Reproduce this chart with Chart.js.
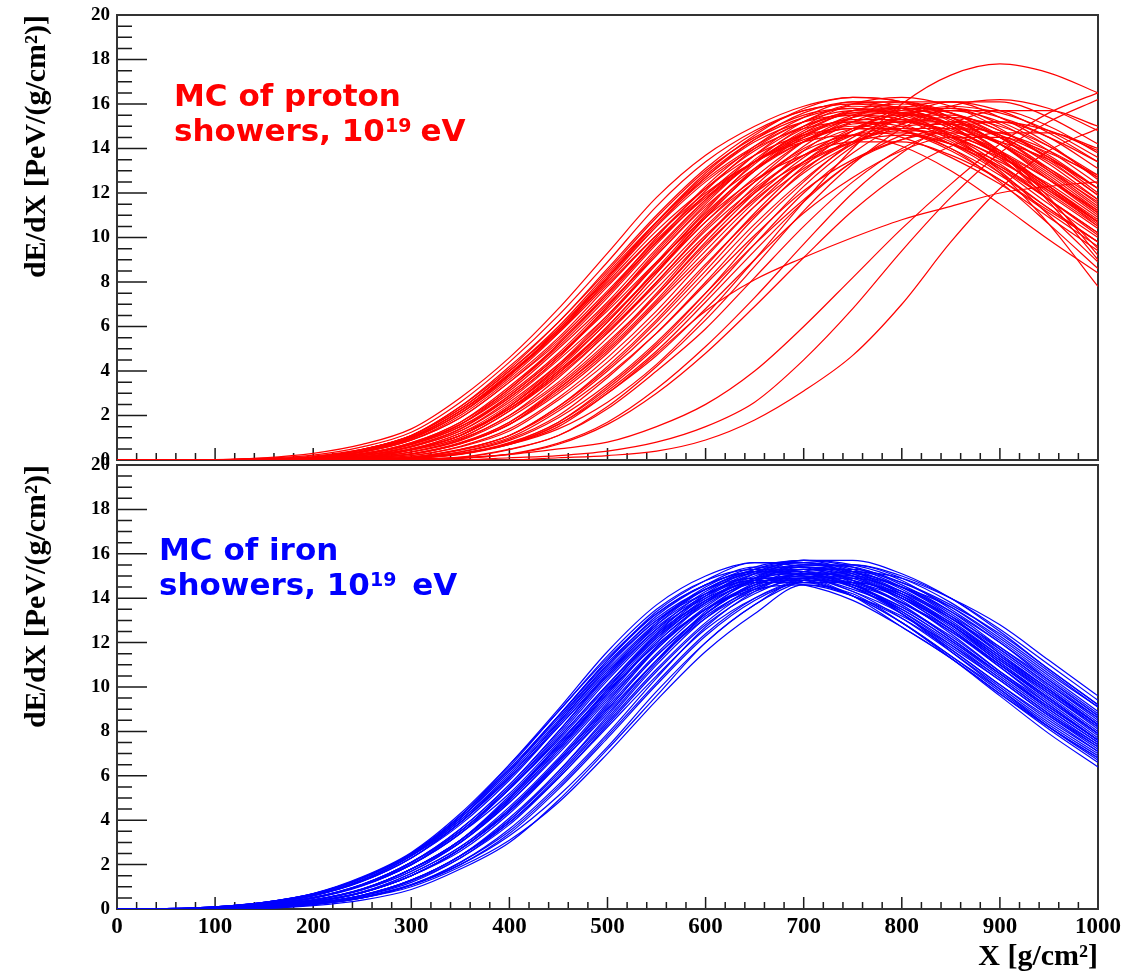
<!DOCTYPE html>
<html>
<head>
<meta charset="utf-8">
<script src="https://cdn.jsdelivr.net/npm/chart.js@4.4.1/dist/chart.umd.min.js"></script>
<style>
  html, body { margin: 0; padding: 0; background: #fff; overflow: hidden; }
  #wrap { position: relative; width: 1122px; height: 975px; }
  canvas { position: absolute; left: 0; }
  #cTop { top: 0; }
  #cBot { top: 455px; }
  .note { position: absolute; font-family: "DejaVu Sans", sans-serif; font-weight: bold; font-size: 31px; line-height: 35px; white-space: nowrap; }
  .note sup { font-size: 19px; position: relative; top: -9px; vertical-align: baseline; }
</style>
</head>
<body>
<div id="wrap">
  <canvas id="cTop" width="1122" height="470"></canvas>
  <canvas id="cBot" width="1122" height="520"></canvas>
  <div class="note" id="noteP" style="left:174px; top:78px; color:#ff0000;">MC of proton<br>showers, 10<sup>19</sup><span style="margin-left:9px">eV</span></div>
  <div class="note" id="noteI" style="left:159px; top:532px; color:#0000ff;">MC of iron<br>showers, 10<sup>19</sup> <span style="margin-left:5px">eV</span></div>
</div>
<script>
// ---- data (slant depth grid, g/cm^2) ----
const depthGrid = [0,50,100,150,200,250,300,350,400,450,500,550,600,650,700,750,800,850,900,950,1000];
const xTickValues = [0,100,200,300,400,500,600,700,800,900,1000];
const yTickValues = [0,2,4,6,8,10,12,14,16,18,20];

// proton showers, dE/dX in PeV/(g/cm2)
const p01 = [0,0,0.02,0.1,0.3,0.7,1.4,2.8,4.6,6.8,9.3,11.8,13.7,15.0,15.9,16.3,16.1,15.4,14.2,12.7,11.1];
const p02 = [0,0,0,0.05,0.13,0.47,1.1,2.4,4.1,6.2,8.5,10.9,13.0,14.5,15.5,15.8,15.4,14.5,13.1,11.5,10.0];
const p03 = [0,0,0,0.05,0.12,0.46,1.1,2.3,4.0,5.9,8.2,10.5,12.5,14.0,14.9,15.2,14.8,13.9,12.6,11.1,9.6];
const p04 = [0,0,0,0.04,0.12,0.44,1.0,2.2,3.8,5.7,7.9,10.1,12.0,13.4,14.3,14.6,14.1,13.0,11.5,9.9,8.4];
const p05 = [0,0,0,0.02,0.08,0.28,0.78,1.7,3.3,5.2,7.5,10.0,12.3,14.1,15.4,16.1,16.1,15.4,14.2,12.6,11.0];
const p06 = [0,0,0,0.02,0.08,0.27,0.75,1.6,3.2,5.1,7.3,9.7,11.9,13.7,15.0,15.6,15.6,14.9,13.7,12.2,10.7];
const p07 = [0,0,0,0.02,0.08,0.26,0.72,1.6,3.0,4.8,7.0,9.2,11.4,13.1,14.3,14.9,14.9,14.2,13.1,11.7,10.2];
const p08 = [0,0,0,0.01,0.07,0.24,0.69,1.5,2.9,4.7,6.7,8.9,10.9,12.6,13.7,14.3,14.3,13.7,12.6,11.2,9.8];
const p09 = [0,0,0,0,0.05,0.13,0.49,1.1,2.4,4.2,6.4,8.8,11.2,13.4,15.0,16.0,16.3,15.9,14.9,13.5,11.9];
const p10 = [0,0,0,0,0.05,0.13,0.47,1.1,2.4,4.1,6.2,8.5,10.9,13.0,14.5,15.5,15.8,15.4,14.5,13.1,11.5];
const p11 = [0,0,0,0,0.05,0.12,0.46,1.1,2.3,4.0,5.9,8.2,10.5,12.5,14.0,14.9,15.2,14.8,13.9,12.6,11.1];
const p12 = [0,0,0,0,0.04,0.12,0.44,1.0,2.2,3.8,5.7,7.9,10.1,12.0,13.4,14.3,14.6,14.2,13.4,12.1,10.7];
const p13 = [0,0,0,0,0.02,0.08,0.28,0.78,1.7,3.3,5.2,7.5,10.0,12.3,14.1,15.4,16.1,16.1,15.4,14.2,12.6];
const p14 = [0,0,0,0,0.02,0.08,0.27,0.75,1.6,3.2,5.0,7.2,9.6,11.8,13.6,14.9,15.5,15.5,14.8,13.7,12.2];
const p15 = [0,0,0,0,0.02,0.08,0.26,0.72,1.6,3.0,4.8,7.0,9.2,11.4,13.1,14.3,14.9,14.9,14.2,13.1,11.7];
const p16 = [0,0,0,0,0,0.05,0.13,0.48,1.1,2.4,4.2,6.3,8.7,11.1,13.2,14.8,15.8,16.1,15.7,14.7,13.4];
const p17 = [0,0,0,0,0,0.05,0.12,0.46,1.1,2.3,4.0,6.0,8.3,10.6,12.6,14.2,15.1,15.4,15.0,14.1,12.8];
const p18 = [0,0,0,0,0,0.04,0.12,0.44,1.0,2.2,3.8,5.7,7.9,10.1,12.1,13.5,14.4,14.7,14.3,13.5,12.2];
const p19 = [0,0,0,0,0,0.02,0.08,0.28,0.78,1.7,3.3,5.2,7.5,10.0,12.3,14.1,15.4,16.1,16.1,15.4,14.2];
const p20 = [0,0,0,0,0,0.02,0.08,0.26,0.73,1.6,3.1,4.9,7.1,9.4,11.6,13.4,14.6,15.2,15.2,14.5,13.4];
const p21 = [0,0,0,0,0,0.01,0.07,0.25,0.7,1.5,3.0,4.7,6.8,9.0,11.1,12.7,13.9,14.5,14.5,13.8,12.8];
const p22 = [0,0,0,0,0,0,0.05,0.13,0.49,1.1,2.4,4.2,6.3,8.7,11.2,13.3,14.9,15.9,16.2,15.8,14.8];
const p23 = [0,0,0,0,0,0,0.05,0.12,0.46,1.1,2.3,4.0,5.9,8.2,10.5,12.5,14.0,14.9,15.2,14.8,13.9];
const p24 = [0,0,0,0,0,0,0.02,0.08,0.27,0.76,1.7,3.2,5.1,7.3,9.7,12.0,13.8,15.1,15.7,15.7,15.0];
const p25 = [0,0,0,0,0,0,0.01,0.07,0.25,0.71,1.6,3.0,4.8,6.9,9.1,11.2,12.9,14.1,14.7,14.7,14.0];
const p26 = [0,0,0,0,0.1,0.3,0.7,1.5,2.8,4.6,6.9,9.3,11.6,13.4,14.6,15.2,15.0,14.3,12.9,10.6,7.8];
const p27 = [0,0,0,0,0.05,0.2,0.5,1.2,2.3,3.9,6.0,8.4,10.9,13.0,14.6,15.4,15.6,15.1,13.9,11.8,9.2];
const p28 = [0,0,0,0.03,0.1,0.35,0.9,1.9,3.5,5.4,7.6,9.9,11.9,13.4,14.4,14.9,14.8,14.0,12.5,10.6,8.6];
const p29 = [0,0,0,0,0,0,0.1,0.3,0.7,1.4,2.6,4.3,6.5,9.0,11.6,14.0,16.0,17.3,17.8,17.4,16.5];
const p30 = [0,0,0,0,0,0,0.1,0.3,0.7,1.6,3.0,4.8,6.7,8.1,9.1,10.0,10.8,11.4,12.0,12.3,12.5];
const p31 = [0,0,0,0,0,0,0,0.1,0.25,0.5,0.8,1.5,2.5,4.0,6.0,8.2,10.4,12.4,14.2,15.6,16.5];
const p32 = [0,0,0,0,0,0,0,0,0.1,0.2,0.4,0.8,1.5,2.6,4.5,6.8,9.4,11.8,13.8,15.2,16.2];
const p33 = [0,0,0,0,0,0,0,0,0,0.1,0.2,0.4,0.9,1.8,3.1,4.7,7.0,9.8,12.2,13.9,14.9];
const p34 = [0,0,0,0.03,0.1,0.36,0.9,2.0,3.6,5.5,7.8,10.1,12.2,13.9,15.0,15.5,15.3,14.4,13.2,11.7,10.2];
const p35 = [0,0,0,0.01,0.06,0.2,0.62,1.4,2.8,4.6,6.8,9.2,11.5,13.5,14.9,15.7,15.8,15.3,14.2,12.8,11.2];
const p36 = [0,0,0,0,0.03,0.1,0.36,0.9,2.0,3.5,5.5,7.7,10.0,12.1,13.7,14.8,15.3,15.1,14.3,13.0,11.6];
const p37 = [0,0,0,0,0.01,0.06,0.2,0.62,1.4,2.8,4.6,6.7,9.1,11.4,13.4,14.8,15.6,15.7,15.2,14.1,12.7];
const p38 = [0,0,0,0,0,0.03,0.1,0.35,0.88,1.9,3.4,5.3,7.5,9.7,11.7,13.4,14.4,14.9,14.7,13.9,12.7];
const p39 = [0,0,0,0.03,0.1,0.38,0.95,2.1,3.7,5.7,8.1,10.5,12.7,14.4,15.6,16.1,15.8,15.0,13.7,12.2,10.5];
const p40 = [0,0,0,0.01,0.06,0.19,0.58,1.3,2.6,4.3,6.3,8.5,10.7,12.5,13.9,14.6,14.7,14.2,13.2,11.9,10.4];
const p41 = [0,0,0.01,0.06,0.18,0.48,1.05,2.2,3.85,5.8,8.2,10.6,12.6,14.1,15.2,15.7,15.6,14.9,13.8,12.3,10.7];
const p42 = [0,0,0.01,0.08,0.22,0.59,1.25,2.6,4.4,6.5,8.9,11.4,13.4,14.8,15.7,16.0,15.8,15.0,13.7,12.1,10.6];
const p43 = [0,0,0,0.04,0.11,0.38,0.96,2.1,3.8,5.8,8.2,10.7,12.9,14.6,15.8,16.3,16.1,15.2,13.9,12.3,10.7];
const p44 = [0,0,0,0.05,0.13,0.48,1.1,2.4,4.2,6.2,8.6,11.0,13.1,14.7,15.7,16.0,15.6,14.6,13.3,11.7,10.1];
const p45 = [0,0,0,0.05,0.12,0.47,1.1,2.3,4.0,6.0,8.4,10.7,12.7,14.3,15.2,15.5,15.1,14.2,12.9,11.3,9.8];
const p46 = [0,0,0,0.04,0.12,0.45,1.04,2.2,3.9,5.8,8.0,10.3,12.2,13.7,14.6,14.9,14.5,13.6,12.4,10.9,9.4];
const p47 = [0,0,0,0.02,0.08,0.26,0.74,1.6,3.1,5.0,7.1,9.5,11.7,13.4,14.7,15.3,15.3,14.6,13.5,12.0,10.5];
const p48 = [0,0,0,0.02,0.08,0.27,0.77,1.7,3.2,5.2,7.4,9.8,12.1,14.0,15.2,15.9,15.8,15.0,13.6,11.7,9.5];
const p49 = [0,0,0,0,0.05,0.13,0.48,1.1,2.4,4.2,6.2,8.6,11.0,13.1,14.7,15.7,16.0,15.6,14.6,13.3,11.7];
const p50 = [0,0,0,0,0.05,0.12,0.47,1.1,2.3,4.0,6.0,8.4,10.7,12.7,14.3,15.2,15.5,15.1,14.2,12.9,11.3];
const p51 = [0,0,0,0,0.04,0.12,0.45,1.0,2.2,3.9,5.8,8.0,10.3,12.2,13.7,14.6,14.9,14.5,13.6,12.4,10.9];
const p52 = [0,0,0,0,0.02,0.08,0.27,0.76,1.7,3.2,5.1,7.4,9.8,12.0,13.9,15.2,15.8,15.8,15.1,13.9,12.4];
const p53 = [0,0,0,0,0.02,0.08,0.26,0.73,1.6,3.1,4.9,7.1,9.4,11.6,13.4,14.6,15.2,15.2,14.5,13.4,11.9];
const p54 = [0,0,0,0,0,0.05,0.13,0.47,1.1,2.4,4.1,6.2,8.5,10.9,13.0,14.5,15.5,15.8,15.4,14.5,13.1];
const p55 = [0,0,0,0,0,0.02,0.08,0.27,0.76,1.7,3.2,5.1,7.3,9.7,12.0,13.8,15.1,15.7,15.7,15.0,13.8];
const p56 = [0,0,0,0.03,0.1,0.35,0.89,1.9,3.5,5.3,7.5,9.8,11.8,13.4,14.5,15.0,14.8,14.0,12.8,11.3,9.8];
const p57 = [0,0,0,0.01,0.06,0.2,0.63,1.4,2.9,4.7,6.9,9.4,11.7,13.7,15.2,16.0,16.1,15.6,14.5,13.0,11.4];
const p58 = [0,0,0,0.01,0.06,0.19,0.6,1.3,2.7,4.5,6.5,8.8,11.1,13.0,14.3,15.1,15.2,14.7,13.7,12.3,10.8];
const p59 = [0,0,0,0,0.03,0.1,0.37,0.94,2.0,3.7,5.7,8.0,10.4,12.5,14.3,15.4,15.9,15.6,14.8,13.6,12.0];
const p60 = [0,0,0,0,0.03,0.1,0.35,0.87,1.9,3.4,5.3,7.4,9.7,11.7,13.3,14.3,14.8,14.6,13.8,12.6,11.2];
const p61 = [0,0,0,0,0.01,0.06,0.19,0.59,1.3,2.7,4.4,6.5,8.8,11.0,12.9,14.2,15.0,15.1,14.6,13.6,12.2];
const p62 = [0,0,0,0,0,0.03,0.1,0.37,0.94,2.0,3.7,5.7,8.0,10.4,12.5,14.3,15.4,15.9,15.6,14.8,13.6];
const p63 = [0,0,0,0.03,0.1,0.4,1.0,2.1,3.8,5.9,8.3,10.7,12.8,14.4,15.4,15.8,15.5,14.6,13.0,11.0,8.9];
const p64 = [0,0,0,0,0.05,0.14,0.5,1.2,2.5,4.3,6.5,8.9,11.3,13.3,14.8,15.6,15.7,15.1,13.8,11.6,9.0];
const protonShowers = [p01,p02,p03,p04,p05,p06,p07,p08,p09,p10,p11,p12,p13,p14,p15,p16,p17,p18,p19,p20,
  p21,p22,p23,p24,p25,p26,p27,p28,p29,p30,p31,p32,p33,p34,p35,p36,p37,p38,p39,p40,
  p41,p42,p43,p44,p45,p46,p47,p48,p49,p50,p51,p52,p53,p54,p55,p56,p57,p58,p59,p60,p61,p62,p63,p64];

// iron showers
const i01 = [0,0.02,0.1,0.3,0.68,1.4,2.5,4.2,6.5,9.0,11.6,13.7,15.0,15.6,15.4,14.7,13.4,11.9,10.3,8.7,7.2];
const i02 = [0,0,0.08,0.26,0.62,1.3,2.4,4.0,6.1,8.5,11.0,13.2,14.6,15.4,15.4,14.8,13.7,12.2,10.6,9.0,7.5];
const i03 = [0,0,0.08,0.26,0.6,1.26,2.3,3.9,5.9,8.3,10.7,12.8,14.2,14.9,14.9,14.3,13.3,11.8,10.3,8.7,7.3];
const i04 = [0,0,0.08,0.27,0.63,1.32,2.4,4.1,6.2,8.7,11.2,13.4,14.8,15.6,15.6,15.0,13.9,12.4,10.7,9.1,7.6];
const i05 = [0,0,0.03,0.16,0.41,0.9,1.8,3.1,5.0,7.4,9.9,12.3,14.1,15.2,15.6,15.3,14.4,13.1,11.5,9.9,8.3];
const i06 = [0,0,0.03,0.15,0.4,0.88,1.8,3.0,4.9,7.2,9.6,12.0,13.7,14.8,15.2,14.9,14.0,12.8,11.2,9.6,8.0];
const i07 = [0,0,0.03,0.15,0.4,0.89,1.8,3.1,5.0,7.3,9.7,12.1,13.9,15.0,15.4,15.1,14.2,12.9,11.3,9.7,8.2];
const i08 = [0,0,0.03,0.15,0.39,0.86,1.7,3.0,4.8,7.0,9.4,11.7,13.5,14.5,14.9,14.6,13.8,12.5,11.0,9.4,7.9];
const i09 = [0,0,0,0.08,0.27,0.62,1.3,2.4,4.0,6.2,8.6,11.1,13.3,14.7,15.5,15.5,14.9,13.8,12.3,10.7,9.1];
const i10 = [0,0,0,0.08,0.26,0.61,1.3,2.4,3.9,6.0,8.4,10.8,12.9,14.4,15.1,15.1,14.5,13.4,12.0,10.4,8.8];
const i11 = [0,0,0,0.07,0.25,0.59,1.2,2.3,3.8,5.9,8.2,10.5,12.6,14.0,14.7,14.7,14.2,13.1,11.7,10.1,8.6];
const i12 = [0,0,0,0.03,0.15,0.4,0.88,1.8,3.0,4.9,7.2,9.6,12.0,13.7,14.8,15.2,14.9,14.0,12.8,11.2,9.6];
const i13 = [0,0,0,0.03,0.2,0.5,1.0,1.9,3.1,4.8,7.0,9.4,11.6,13.3,14.6,14.2,12.9,11.3,9.6,7.9,6.4];
const i14 = [0,0,0,0.04,0.22,0.55,1.1,2.0,3.3,5.1,7.3,9.8,12.0,13.7,14.8,14.6,13.3,11.6,9.9,8.2,6.7];
const i15 = [0,0,0.05,0.21,0.5,1.09,2.1,3.5,5.5,7.8,10.3,12.5,14.1,15.1,15.3,14.8,13.8,12.5,10.9,9.3,7.7];
const i16 = [0,0,0.05,0.21,0.51,1.11,2.1,3.6,5.6,8.0,10.5,12.8,14.4,15.3,15.6,15.1,14.1,12.7,11.1,9.5,7.9];
const i17 = [0,0,0.05,0.2,0.49,1.06,2.0,3.4,5.4,7.6,10.0,12.2,13.8,14.7,14.9,14.4,13.5,12.1,10.6,9.0,7.5];
const i18 = [0,0,0.02,0.12,0.33,0.75,1.5,2.7,4.5,6.7,9.1,11.5,13.5,14.8,15.4,15.2,14.5,13.3,11.7,10.1,8.5];
const i19 = [0,0,0.02,0.11,0.32,0.74,1.5,2.7,4.4,6.5,8.9,11.2,13.2,14.4,15.0,14.8,14.1,12.9,11.4,9.9,8.3];
const i20 = [0,0,0.02,0.12,0.34,0.77,1.6,2.8,4.6,6.8,9.3,11.8,13.8,15.1,15.7,15.5,14.8,13.5,12.0,10.3,8.7];
const i21 = [0,0.02,0.1,0.3,0.68,1.4,2.5,4.2,6.4,8.9,11.3,13.3,14.6,15.2,15.0,14.3,13.1,11.6,10.0,8.4,7.0];
const i22 = [0,0.01,0.1,0.3,0.67,1.4,2.5,4.1,6.2,8.6,11.0,13.0,14.2,14.8,14.6,13.9,12.7,11.3,9.7,8.2,6.8];
const i23 = [0,0,0.08,0.26,0.61,1.28,2.4,3.9,6.0,8.4,10.8,12.9,14.4,15.1,15.1,14.5,13.4,12.0,10.4,8.8,7.3];
const i24 = [0,0,0.03,0.16,0.41,0.91,1.8,3.1,5.1,7.4,9.9,12.4,14.2,15.3,15.7,15.4,14.5,13.2,11.5,9.9,8.3];
const i25 = [0,0,0,0.08,0.26,0.62,1.3,2.4,4.0,6.1,8.5,11.0,13.1,14.5,15.3,15.3,14.7,13.6,12.1,10.5,8.9];
const i26 = [0,0,0,0.05,0.2,0.5,1.07,2.0,3.4,5.4,7.7,10.1,12.3,13.9,14.8,15.0,14.5,13.6,12.2,10.6,9.1];
const i27 = [0,0,0,0.05,0.21,0.51,1.1,2.1,3.6,5.6,7.9,10.4,12.7,14.3,15.2,15.5,15.0,14.0,12.6,11.0,9.4];
const i28 = [0,0.02,0.09,0.28,0.66,1.36,2.45,4.1,6.3,8.7,11.2,13.3,14.6,15.2,15.0,14.1,12.7,11.3,9.7,8.1,6.6];
const i29 = [0,0,0.05,0.2,0.5,1.07,2.0,3.4,5.4,7.7,10.1,12.3,13.9,14.8,15.0,14.5,13.6,12.2,10.6,9.1,7.6];
const i30 = [0,0,0.02,0.11,0.32,0.74,1.5,2.7,4.4,6.6,9.0,11.4,13.3,14.6,15.1,14.9,14.0,12.6,10.9,9.2,7.6];
const i31 = [0,0,0.08,0.26,0.61,1.29,2.4,4.0,6.0,8.4,10.9,13.0,14.4,15.2,15.2,14.6,13.5,12.1,10.5,8.9,7.4];
const i32 = [0,0,0.07,0.25,0.59,1.24,2.3,3.8,5.8,8.2,10.5,12.6,14.0,14.7,14.7,14.1,13.1,11.7,10.1,8.6,7.1];
const i33 = [0,0,0.05,0.21,0.51,1.1,2.1,3.5,5.5,7.9,10.4,12.6,14.3,15.2,15.4,15.0,14.0,12.6,11.0,9.4,7.8];
const i34 = [0,0,0.05,0.2,0.5,1.07,2.0,3.5,5.4,7.7,10.1,12.4,13.9,14.9,15.1,14.6,13.6,12.3,10.7,9.2,7.6];
const i35 = [0,0,0.03,0.15,0.39,0.87,1.7,3.0,4.8,7.1,9.5,11.8,13.5,14.6,15.0,14.7,13.8,12.6,11.0,9.5,7.9];
const i36 = [0,0,0.03,0.16,0.4,0.9,1.8,3.1,5.0,7.3,9.8,12.2,14.0,15.1,15.5,15.2,14.3,13.0,11.4,9.8,8.2];
const i37 = [0,0,0.02,0.12,0.33,0.76,1.6,2.8,4.5,6.7,9.2,11.7,13.6,14.9,15.5,15.4,14.6,13.4,11.8,10.2,8.6];
const i38 = [0,0,0.02,0.11,0.33,0.74,1.5,2.7,4.4,6.6,9.0,11.4,13.3,14.6,15.1,15.0,14.3,13.1,11.6,10.0,8.4];
const i39 = [0,0,0,0.08,0.26,0.6,1.26,2.3,3.9,5.9,8.3,10.7,12.8,14.2,14.9,14.9,14.3,13.2,11.8,10.3,8.7];
const i40 = [0,0.02,0.1,0.3,0.7,1.45,2.55,4.3,6.5,8.9,11.4,13.5,14.8,15.3,15.2,14.5,13.3,11.7,10.1,8.5,7.1];
const i41 = [0,0.02,0.1,0.3,0.69,1.42,2.5,4.2,6.3,8.7,11.1,13.1,14.4,14.9,14.8,14.1,12.9,11.4,9.9,8.3,6.9];
const i42 = [0,0,0.05,0.21,0.52,1.11,2.1,3.6,5.6,8.0,10.6,12.9,14.5,15.4,15.7,15.2,14.2,12.8,11.1,9.5,7.9];
const i43 = [0,0,0.03,0.15,0.4,0.89,1.8,3.1,4.9,7.2,9.7,12.0,13.8,14.9,15.3,15.0,14.1,12.8,11.2,9.7,8.1];
const i44 = [0,0,0.07,0.25,0.6,1.25,2.3,3.9,5.9,8.2,10.6,12.7,14.1,14.8,14.8,14.1,12.9,11.4,9.8,8.2,6.8];
const i45 = [0,0,0.01,0.11,0.32,0.73,1.5,2.6,4.3,6.5,8.8,11.2,13.1,14.3,14.8,14.7,14.0,12.8,11.3,9.8,8.3];
const i46 = [0,0,0,0.08,0.27,0.63,1.3,2.4,4.1,6.2,8.7,11.2,13.4,14.9,15.7,15.7,15.1,14.0,12.5,10.8,9.2];
const i47 = [0,0,0,0.05,0.21,0.5,1.08,2.1,3.5,5.5,7.8,10.2,12.4,14.0,14.9,15.2,14.7,13.7,12.4,10.8,9.2];
const i48 = [0,0,0.05,0.2,0.48,1.04,2.0,3.4,5.2,7.5,9.8,11.9,13.5,14.4,14.6,14.1,13.2,11.9,10.4,8.8,7.4];
const ironShowers = [i01,i02,i03,i04,i05,i06,i07,i08,i09,i10,i11,i12,i13,i14,i15,i16,i17,i18,i19,i20,
  i21,i22,i23,i24,i25,i26,i27,i28,i29,i30,i31,i32,i33,i34,i35,i36,i37,i38,i39,i40,
  i41,i42,i43,i44,i45,i46,i47,i48];

// ---- styling ----
const SERIF = '"Liberation Serif", "Times New Roman", serif';

const rootFrame = {
  id: 'rootFrame',
  beforeDatasetsDraw(chart) {
    const { ctx, chartArea: { left, right, top, bottom }, scales: { x, y } } = chart;
    ctx.save();
    ctx.strokeStyle = '#1a1a1a';
    ctx.lineWidth = 1.5;
    ctx.beginPath();
    for (let k = 0; k <= 40; k++) {
      const v = k * 0.5;
      const py = y.getPixelForValue(v);
      const len = yTickValues.includes(v) ? 30 : 15;
      ctx.moveTo(left, py); ctx.lineTo(left + len, py);
    }
    for (let k = 0; k <= 50; k++) {
      const v = k * 20;
      const px = x.getPixelForValue(v);
      const len = xTickValues.includes(v) ? 12 : 7;
      ctx.moveTo(px, bottom); ctx.lineTo(px, bottom - len);
    }
    ctx.stroke();
    ctx.lineWidth = 2;
    ctx.strokeStyle = '#333';
    ctx.strokeRect(left, top, right - left, bottom - top);
    ctx.restore();
  }
};

function makeChart(canvasId, showers, color, isBottom) {
  const datasets = showers.map((s, idx) => ({
    label: 'shower ' + (idx + 1),
    data: s,
    borderColor: color,
    borderWidth: 1.2,
    pointRadius: 0,
    fill: false,
    cubicInterpolationMode: 'monotone'
  }));
  return new Chart(document.getElementById(canvasId), {
    type: 'line',
    data: { labels: depthGrid, datasets },
    plugins: [rootFrame],
    options: {
      responsive: false,
      animation: false,
      events: [],
      devicePixelRatio: 1,
      layout: { autoPadding: false, padding: { top: isBottom ? 10 : 15, right: 24, left: 0, bottom: 0 } },
      plugins: { legend: { display: false }, tooltip: { enabled: false } },
      scales: {
        x: {
          type: 'linear', min: 0, max: 1000,
          afterBuildTicks: s => { s.ticks = xTickValues.map(v => ({ value: v })); },
          afterFit: s => { s.height = isBottom ? 66 : 10; s.paddingLeft = 0; s.paddingRight = 0; },
          grid: { display: false, drawTicks: false },
          border: { display: false },
          ticks: {
            display: isBottom, color: '#000', padding: 4, maxRotation: 0, autoSkip: false,
            font: { family: SERIF, size: 23, weight: 'bold' },
            callback: v => String(v)
          },
          title: {
            display: isBottom, text: 'X [g/cm²]', align: 'end', color: '#000',
            font: { family: SERIF, size: 30, weight: 'bold' },
            padding: { top: 0, bottom: 0 }
          }
        },
        y: {
          type: 'linear', min: 0, max: 20,
          afterBuildTicks: s => { s.ticks = yTickValues.map(v => ({ value: v })); },
          afterFit: s => { s.width = 117; s.paddingTop = 0; s.paddingBottom = 0; },
          grid: { display: false, drawTicks: false },
          border: { display: false },
          ticks: {
            color: '#000', padding: 7, autoSkip: false,
            font: { family: SERIF, size: 19, weight: 'bold' },
            callback: v => String(v)
          },
          title: {
            display: true, text: 'dE/dX [PeV/(g/cm²)]', align: 'end', color: '#000',
            font: { family: SERIF, size: 30, weight: 'bold' },
            padding: { top: 19, bottom: 0 }
          }
        }
      }
    }
  });
}

makeChart('cTop', protonShowers, '#ff0000', false);
makeChart('cBot', ironShowers, '#0000ff', true);
</script>
</body>
</html>
